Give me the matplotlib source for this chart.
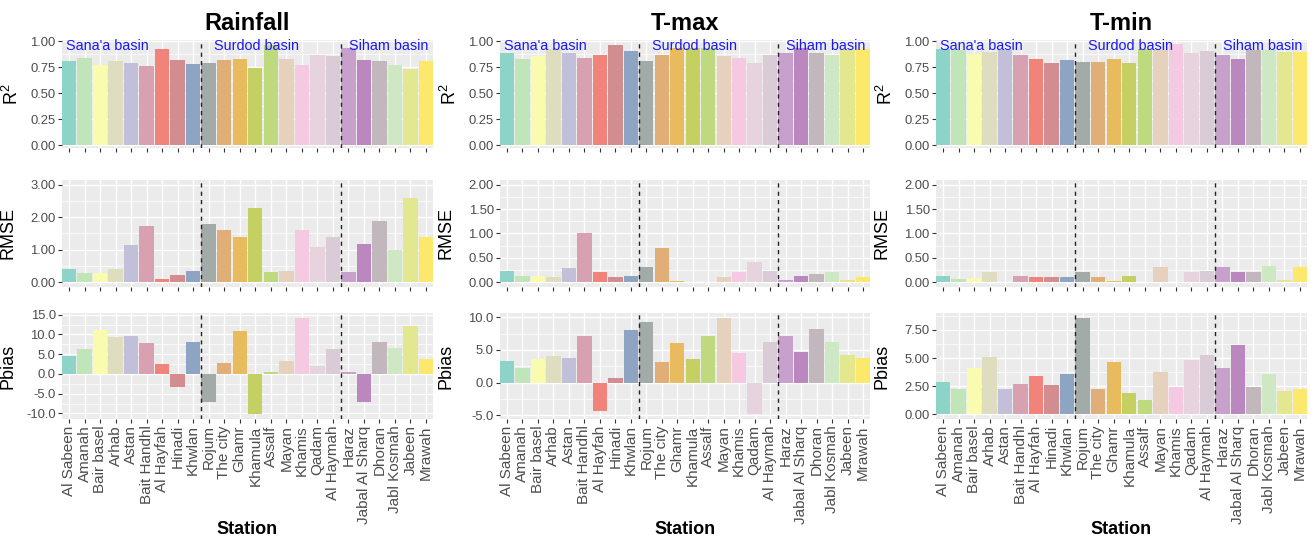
import matplotlib
matplotlib.use("Agg")
import matplotlib.pyplot as plt
import numpy as np
from matplotlib.ticker import FixedLocator, FormatStrFormatter

plt.rcParams['font.family'] = ['Liberation Sans', 'DejaVu Sans']
plt.rcParams['mathtext.fontset'] = 'custom'
plt.rcParams['mathtext.rm'] = 'Liberation Sans'
plt.rcParams['mathtext.it'] = 'Liberation Sans'

stations = ["Al Sabeen", "Amanah", "Bair basel", "Arhab", "Astan", "Bait Handhl",
            "Al Hayfah", "Hinadi", "Khwlan", "Rojum", "The city", "Ghamr", "Khamula",
            "Assalf", "Mayan", "Khamis", "Qadam", "Al Haymah", "Haraz", "Jabal Al Sharq",
            "Dhoran", "Jabl Kosmah", "Jabeen", "Mrawah"]

station_colors = ["#8DD3C7", "#BFE5B9", "#F9FBAE", "#DEDDBF", "#C2BFD9", "#D7A1B2",
                  "#F1837A", "#D18D90", "#8DA5C3", "#A2ABA8", "#E2AE78", "#E8BB5F",
                  "#C4D062", "#BFD97E", "#E5D1BC", "#F4C9E1", "#E6D3DD", "#D9CCD6",
                  "#C7A0CB", "#BB87BF", "#C2B7BD", "#CDE8C2", "#E3E78F", "#FCE86A"]

basins = ["Sana'a basin", "Surdod basin", "Siham basin"]
basin_label_pos = [2.5, 12.1, 20.6]
basin_breaks = [8.5, 17.5]

variables = ["Rainfall", "T-max", "T-min"]

rain_r2 = [0.81, 0.84, 0.775, 0.805, 0.79, 0.76, 0.92, 0.82, 0.78, 0.79, 0.82, 0.83,
           0.74, 0.96, 0.83, 0.775, 0.87, 0.855, 0.93, 0.82, 0.805, 0.775, 0.735, 0.81]
rain_rmse = [0.40, 0.28, 0.28, 0.42, 1.16, 1.73, 0.11, 0.22, 0.33, 1.80, 1.60, 1.40,
             2.28, 0.30, 0.35, 1.60, 1.09, 1.40, 0.30, 1.19, 1.89, 1.00, 2.58, 1.40]
rain_pbias = [4.6, 6.3, 11.2, 9.3, 9.7, 7.8, 2.4, -3.2, 8.1, -7.2, 2.7, 10.9,
              -10.2, 0.4, 3.2, 14.2, 2.0, 6.4, 0.5, -7.2, 8.1, 6.5, 12.2, 3.7]

tmax_r2 = [0.89, 0.83, 0.86, 0.92, 0.885, 0.84, 0.87, 0.965, 0.90, 0.81, 0.87, 0.93,
           0.93, 0.93, 0.86, 0.84, 0.79, 0.87, 0.89, 0.93, 0.89, 0.87, 0.91, 0.92]
tmax_rmse = [0.23, 0.12, 0.13, 0.10, 0.29, 1.01, 0.21, 0.10, 0.12, 0.31, 0.71, 0.02,
             0.01, 0.01, 0.10, 0.21, 0.41, 0.23, 0.05, 0.12, 0.17, 0.20, 0.04, 0.10]
tmax_pbias = [3.3, 2.2, 3.6, 4.1, 3.8, 7.1, -4.3, 0.7, 8.1, 9.3, 3.1, 6.1,
              3.6, 7.2, 9.9, 4.6, -4.8, 6.2, 7.1, 4.7, 8.2, 6.2, 4.3, 3.7]

tmin_r2 = [0.92, 0.91, 0.88, 0.895, 0.91, 0.87, 0.83, 0.79, 0.82, 0.80, 0.80, 0.83,
           0.79, 0.92, 0.91, 0.975, 0.89, 0.90, 0.87, 0.83, 0.91, 0.91, 0.895, 0.895]
tmin_rmse = [0.13, 0.06, 0.09, 0.21, 0.01, 0.13, 0.11, 0.10, 0.10, 0.21, 0.10, 0.03,
             0.12, 0.01, 0.31, 0.01, 0.21, 0.23, 0.31, 0.20, 0.21, 0.34, 0.04, 0.31]
tmin_pbias = [2.88, 2.28, 4.07, 5.07, 2.20, 2.67, 3.41, 2.61, 3.62, 8.58, 2.22, 4.69,
              1.90, 1.28, 3.80, 2.43, 4.81, 5.31, 4.07, 6.20, 2.40, 3.62, 2.08, 2.22]

r2_ticks = [0, 0.25, 0.5, 0.75, 1.0]
rain_rmse_ticks = [0, 1, 2, 3]
temp_rmse_ticks = [0, 0.5, 1.0, 1.5, 2.0]
rain_pbias_ticks = [-10, -5, 0, 5, 10, 15]
tmax_pbias_ticks = [-5, 0, 5, 10]
tmin_pbias_ticks = [0, 2.5, 5, 7.5]

W, H = 1314, 539
fig = plt.figure(figsize=(W / 100, H / 100), dpi=100)

col_x = [(62, 433), (500, 870), (936, 1307)]
row_y = [(40, 148), (180, 287), (313, 419)]

data = {
    "Rainfall": [(rain_r2, r2_ticks, "%.2f", (-0.025, 1.01)),
                 (rain_rmse, rain_rmse_ticks, "%.2f", (-0.15, 3.15)),
                 (rain_pbias, rain_pbias_ticks, "%.1f", None)],
    "T-max": [(tmax_r2, r2_ticks, "%.2f", (-0.025, 1.01)),
              (tmax_rmse, temp_rmse_ticks, "%.2f", (-0.1, 2.1)),
              (tmax_pbias, tmax_pbias_ticks, "%.1f", None)],
    "T-min": [(tmin_r2, r2_ticks, "%.2f", (-0.025, 1.01)),
              (tmin_rmse, temp_rmse_ticks, "%.2f", (-0.1, 2.1)),
              (tmin_pbias, tmin_pbias_ticks, "%.2f", None)],
}
ylabels = [r"$\mathregular{R^2}$", "RMSE", "Pbias"]
ylabel_offsets = [40, 45, 45]

x = np.arange(len(stations))
for ci, var in enumerate(variables):
    x0, x1 = col_x[ci]
    for ri in range(3):
        y0, y1 = row_y[ri]
        ax = fig.add_axes([x0 / W, 1 - y1 / H, (x1 - x0) / W, (y1 - y0) / H])
        vals, ticks, fmt, lim = data[var][ri]
        ax.set_facecolor("#EBEBEB")
        for s in ax.spines.values():
            s.set_visible(False)
        if lim is None:
            lo = min(0, min(vals)); hi = max(0, max(vals))
            rng = hi - lo
            lim = (lo - 0.05 * rng, hi + 0.05 * rng)
        ax.set_ylim(*lim)
        ax.set_xlim(-0.45, len(stations) - 0.55)
        ax.yaxis.set_major_locator(FixedLocator(ticks))
        minors = [(a + b) / 2 for a, b in zip(ticks[:-1], ticks[1:])]
        step = ticks[1] - ticks[0]
        minors = [ticks[0] - step / 2] + minors + [ticks[-1] + step / 2]
        ax.yaxis.set_minor_locator(FixedLocator(minors))
        ax.yaxis.set_major_formatter(FormatStrFormatter(fmt))
        ax.set_xticks(x)
        ax.grid(True, which="major", color="white", lw=1.0, zorder=0)
        ax.grid(True, which="minor", axis="y", color="white", lw=0.5, zorder=0)
        ax.set_axisbelow(True)
        ax.bar(x, vals, width=0.93, color=station_colors, zorder=2)
        for b in basin_breaks:
            ax.axvline(b, color="#222222", ls=(0, (3, 3)), lw=1.0, zorder=3)
        ax.tick_params(axis="both", which="major", length=3, width=0.8, color="#333333",
                       labelcolor="#4D4D4D", labelsize=9.4, pad=1.5)
        ax.tick_params(axis="y", which="minor", length=0)
        if ri == 2:
            ax.set_xticklabels(stations, rotation=90, fontsize=11, color="#4D4D4D")
        else:
            ax.set_xticklabels([])
        ax.set_ylabel(ylabels[ri], fontsize=13, color="black")
        ax.yaxis.set_label_coords(-ylabel_offsets[ri] / (x1 - x0), 0.5)
        if ri == 0:
            for name, pos in zip(basins, basin_label_pos):
                ax.text(pos, 0.955, name, color="#1A1AF0", fontsize=10.4,
                        ha="center", va="center", zorder=4)
            fig.text((x0 + x1) / 2 / W, 1 - 23 / H, var, fontsize=17, fontweight="bold",
                     ha="center", va="center")
    fig.text((x0 + x1) / 2 / W, 1 - 530 / H, "Station", fontsize=13, fontweight="bold",
             ha="center", va="center")

fig.savefig("out.png", dpi=100, facecolor="white")
